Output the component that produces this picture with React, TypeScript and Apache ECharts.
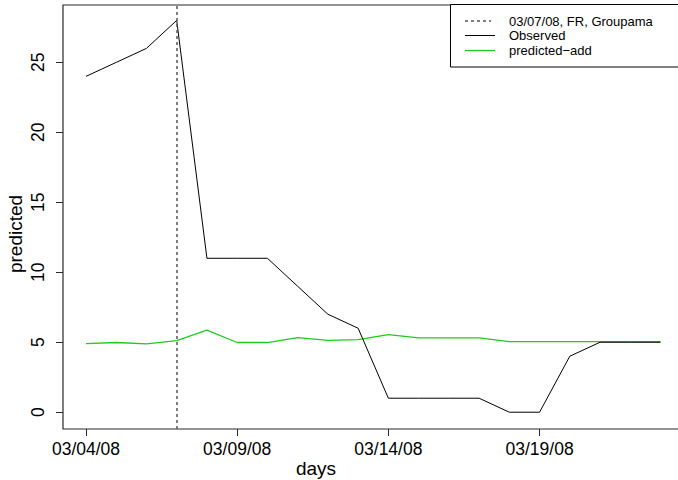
import React, { useEffect, useRef } from "react";
import * as echarts from "echarts";

const days = [
  "03/04/08", "03/05/08", "03/06/08", "03/07/08", "03/08/08",
  "03/09/08", "03/10/08", "03/11/08", "03/12/08", "03/13/08",
  "03/14/08", "03/15/08", "03/16/08", "03/17/08", "03/18/08",
  "03/19/08", "03/20/08", "03/21/08", "03/22/08", "03/23/08",
];
const observed = [24, 25, 26, 28, 11, 11, 11, 9, 7, 6, 1, 1, 1, 1, 0, 0, 4, 5, 5, 5];
const predictedAdd = [
  4.9, 4.98, 4.88, 5.12, 5.86, 4.98, 4.98, 5.33, 5.14, 5.19,
  5.55, 5.31, 5.31, 5.31, 5.05, 5.05, 5.05, 5.05, 5.05, 5.05,
];
const xTickDays = ["03/04/08", "03/09/08", "03/14/08", "03/19/08"];
const yTicks = [0, 5, 10, 15, 20, 25];
const eventDay = "03/07/08";
const legendLabels = ["03/07/08, FR, Groupama", "Observed", "predicted\u2212add"];
const xTitle = "days";
const yTitle = "predicted";

const FONT = "'Liberation Sans', Arial, Helvetica, sans-serif";
const GREEN = "#1ecb1e";

export default function App() {
  const ref = useRef<HTMLDivElement>(null);
  useEffect(() => {
    if (!ref.current) return;
    const chart = echarts.init(ref.current, undefined, { renderer: "svg" });
    const xTickIdx = xTickDays.map((d) => days.indexOf(d));
    const eventIdx = days.indexOf(eventDay);
    const legendY = [21, 35.5, 50.5];
    chart.setOption({
      animation: false,
      backgroundColor: "#fff",
      textStyle: { fontFamily: FONT },
      grid: {
        left: 63,
        top: 5,
        width: 620.5,
        height: 424,
        show: true,
        borderColor: "#2a2a2a",
        borderWidth: 1.2,
        backgroundColor: "transparent",
      },
      xAxis: {
        type: "value",
        min: -0.76,
        max: 19.76,
        axisLine: { show: false, onZero: false },
        splitLine: { show: false },
        axisTick: {
          show: true,
          inside: false,
          length: 7,
          customValues: xTickIdx,
          lineStyle: { color: "#2a2a2a", width: 1 },
        },
        axisLabel: {
          customValues: xTickIdx,
          formatter: (v: number) => days[Math.round(v)] ?? "",
          fontSize: 17.5,
          color: "#000",
          fontFamily: FONT,
          margin: 11,
        },
      },
      yAxis: {
        type: "value",
        min: -1.2,
        max: 29.1,
        axisLine: { show: false, onZero: false },
        splitLine: { show: false },
        axisTick: {
          show: true,
          inside: false,
          length: 7,
          customValues: yTicks,
          lineStyle: { color: "#2a2a2a", width: 1 },
        },
        axisLabel: {
          customValues: yTicks,
          rotate: 90,
          fontSize: 17.5,
          color: "#000",
          fontFamily: FONT,
          margin: 16,
        },
      },
      series: [
        {
          name: legendLabels[1],
          type: "line",
          data: observed.map((v, i) => [i, v]),
          showSymbol: false,
          symbol: "none",
          lineStyle: { color: "#000", width: 1 },
          itemStyle: { color: "#000" },
          z: 3,
          markLine: {
            silent: true,
            symbol: "none",
            label: { show: false },
            lineStyle: { color: "#555", type: [3, 3], width: 1.5 },
            data: [{ xAxis: eventIdx }],
          },
        },
        {
          name: legendLabels[2],
          type: "line",
          data: predictedAdd.map((v, i) => [i, v]),
          showSymbol: false,
          symbol: "none",
          lineStyle: { color: GREEN, width: 1.3 },
          itemStyle: { color: GREEN },
          z: 2,
        },
      ],
      graphic: [
        {
          type: "text",
          x: 316,
          y: 468,
          style: {
            text: xTitle,
            font: `19px ${FONT}`,
            fill: "#000",
            align: "center",
            verticalAlign: "middle",
          },
        },
        {
          type: "text",
          x: 15,
          y: 234,
          rotation: Math.PI / 2,
          style: {
            text: yTitle,
            font: `19px ${FONT}`,
            fill: "#000",
            align: "center",
            verticalAlign: "middle",
          },
        },
        {
          type: "rect",
          shape: { x: 450.5, y: 4.5, width: 240, height: 62.5 },
          style: { fill: "#fff", stroke: "#000", lineWidth: 1 },
          z: 10,
        },
        {
          type: "line",
          shape: { x1: 465, y1: legendY[0], x2: 491, y2: legendY[0] },
          style: { stroke: "#555", lineWidth: 1.3, lineDash: [3, 3] },
          z: 11,
        },
        {
          type: "line",
          shape: { x1: 465, y1: legendY[1], x2: 495, y2: legendY[1] },
          style: { stroke: "#000", lineWidth: 1 },
          z: 11,
        },
        {
          type: "line",
          shape: { x1: 465, y1: legendY[2], x2: 495, y2: legendY[2] },
          style: { stroke: GREEN, lineWidth: 1.3 },
          z: 11,
        },
        ...legendLabels.map((t, i) => ({
          type: "text",
          x: 509,
          y: legendY[i],
          z: 11,
          style: {
            text: t,
            font: `13px ${FONT}`,
            fill: "#000",
            align: "left",
            verticalAlign: "middle",
          },
        })),
      ],
    });
    return () => chart.dispose();
  }, []);
  return (
    <div
      style={{
        position: "fixed",
        left: 0,
        top: 0,
        width: 678,
        height: 480,
        overflow: "hidden",
        background: "#fff",
      }}
    >
      <div ref={ref} style={{ width: 700, height: 480 }} />
    </div>
  );
}
